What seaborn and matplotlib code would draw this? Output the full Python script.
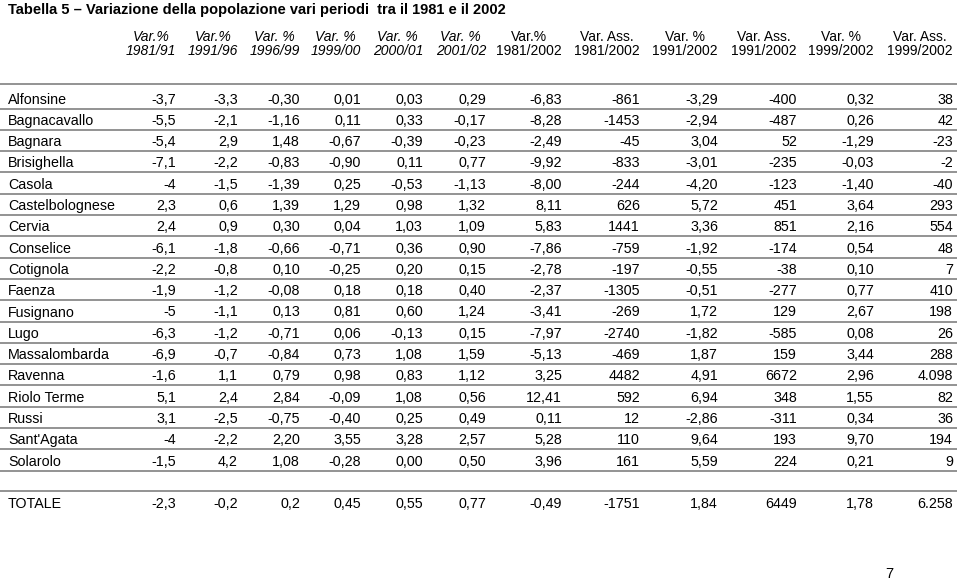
import matplotlib.pyplot as plt
import seaborn as sns

# Tabella 5 - values exactly as printed (strings keep the original formatting)
comuni = ["Alfonsine", "Bagnacavallo", "Bagnara", "Brisighella", "Casola",
          "Castelbolognese", "Cervia", "Conselice", "Cotignola", "Faenza",
          "Fusignano", "Lugo", "Massalombarda", "Ravenna", "Riolo Terme",
          "Russi", "Sant'Agata", "Solarolo"]

var_81_91 = ["-3,7", "-5,5", "-5,4", "-7,1", "-4", "2,3", "2,4", "-6,1", "-2,2",
             "-1,9", "-5", "-6,3", "-6,9", "-1,6", "5,1", "3,1", "-4", "-1,5"]
var_91_96 = ["-3,3", "-2,1", "2,9", "-2,2", "-1,5", "0,6", "0,9", "-1,8", "-0,8",
             "-1,2", "-1,1", "-1,2", "-0,7", "1,1", "2,4", "-2,5", "-2,2", "4,2"]
var_96_99 = ["-0,30", "-1,16", "1,48", "-0,83", "-1,39", "1,39", "0,30", "-0,66",
             "0,10", "-0,08", "0,13", "-0,71", "-0,84", "0,79", "2,84", "-0,75",
             "2,20", "1,08"]
var_99_00 = ["0,01", "0,11", "-0,67", "-0,90", "0,25", "1,29", "0,04", "-0,71",
             "-0,25", "0,18", "0,81", "0,06", "0,73", "0,98", "-0,09", "-0,40",
             "3,55", "-0,28"]
var_00_01 = ["0,03", "0,33", "-0,39", "0,11", "-0,53", "0,98", "1,03", "0,36",
             "0,20", "0,18", "0,60", "-0,13", "1,08", "0,83", "1,08", "0,25",
             "3,28", "0,00"]
var_01_02 = ["0,29", "-0,17", "-0,23", "0,77", "-1,13", "1,32", "1,09", "0,90",
             "0,15", "0,40", "1,24", "0,15", "1,59", "1,12", "0,56", "0,49",
             "2,57", "0,50"]
var_81_02 = ["-6,83", "-8,28", "-2,49", "-9,92", "-8,00", "8,11", "5,83", "-7,86",
             "-2,78", "-2,37", "-3,41", "-7,97", "-5,13", "3,25", "12,41", "0,11",
             "5,28", "3,96"]
ass_81_02 = ["-861", "-1453", "-45", "-833", "-244", "626", "1441", "-759", "-197",
             "-1305", "-269", "-2740", "-469", "4482", "592", "12", "110", "161"]
var_91_02 = ["-3,29", "-2,94", "3,04", "-3,01", "-4,20", "5,72", "3,36", "-1,92",
             "-0,55", "-0,51", "1,72", "-1,82", "1,87", "4,91", "6,94", "-2,86",
             "9,64", "5,59"]
ass_91_02 = ["-400", "-487", "52", "-235", "-123", "451", "851", "-174", "-38",
             "-277", "129", "-585", "159", "6672", "348", "-311", "193", "224"]
var_99_02 = ["0,32", "0,26", "-1,29", "-0,03", "-1,40", "3,64", "2,16", "0,54",
             "0,10", "0,77", "2,67", "0,08", "3,44", "2,96", "1,55", "0,34",
             "9,70", "0,21"]
ass_99_02 = ["38", "42", "-23", "-2", "-40", "293", "554", "48", "7", "410", "198",
             "26", "288", "4.098", "82", "36", "194", "9"]

totale = ["-2,3", "-0,2", "0,2", "0,45", "0,55", "0,77", "-0,49", "-1751",
          "1,84", "6449", "1,78", "6.258"]

header_top = ["Var.%", "Var.%", "Var. %", "Var. %", "Var. %", "Var. %",
              "Var.%", "Var. Ass.", "Var. %", "Var. Ass.", "Var. %", "Var. Ass."]
header_bottom = ["1981/91", "1991/96", "1996/99", "1999/00", "2000/01", "2001/02",
                 "1981/2002", "1981/2002", "1991/2002", "1991/2002",
                 "1999/2002", "1999/2002"]
italic_cols = 6

columns = [var_81_91, var_91_96, var_96_99, var_99_00, var_00_01, var_01_02,
           var_81_02, ass_81_02, var_91_02, ass_91_02, var_99_02, ass_99_02]

sns.set_theme(style="white")
plt.rcParams["font.family"] = ["Liberation Sans", "DejaVu Sans"]

fig = plt.figure(figsize=(9.6, 5.79), dpi=100)
ax = fig.add_axes([0, 0, 1, 1])
ax.set_xlim(0, 960)
ax.set_ylim(579, 0)
ax.axis("off")

# layout (pixels)
col_right = [176, 238, 300, 361, 423, 486, 562, 640, 718, 797, 874, 953]
row0 = 103.5
step = 21.3
fs = 10.3
line_color = "#808080"

ax.text(8, 14, "Tabella 5 \u2013 Variazione della popolazione vari periodi  tra il 1981 e il 2002",
        fontsize=10.55, fontweight="bold", color="black", va="baseline", ha="left")

# header
for j, (top, bottom) in enumerate(zip(header_top, header_bottom)):
    style = "italic" if j < italic_cols else "normal"
    yr = ax.text(col_right[j], 55, bottom, fontsize=10, style=style,
                 ha="right", va="baseline", color="black")
    ax.annotate(top, xy=(0.5, 1), xycoords=yr, xytext=(0, 2.5),
                textcoords="offset points", ha="center", va="baseline",
                fontsize=10, style=style, color="black")

ax.hlines(83.5, 0, 957, color=line_color, lw=1.2)

# body rows
for i, name in enumerate(comuni):
    y = row0 + i * step
    ax.text(8, y, name, fontsize=fs, ha="left", va="baseline", color="black")
    for j, col in enumerate(columns):
        ax.text(col_right[j], y, col[i], fontsize=fs, ha="right",
                va="baseline", color="black")
    ax.hlines(y + 5, 0, 957, color=line_color, lw=1.2)

# totale row
ax.hlines(491, 0, 957, color=line_color, lw=1.2)
ax.text(8, 507.5, "TOTALE", fontsize=fs, ha="left", va="baseline", color="black")
for j, val in enumerate(totale):
    ax.text(col_right[j], 507.5, val, fontsize=fs, ha="right",
            va="baseline", color="black")

# page number
ax.text(889.5, 577.5, "7", fontsize=10.5, ha="center", va="baseline", color="black")

fig.savefig("out.png", dpi=100)
plt.close(fig)
